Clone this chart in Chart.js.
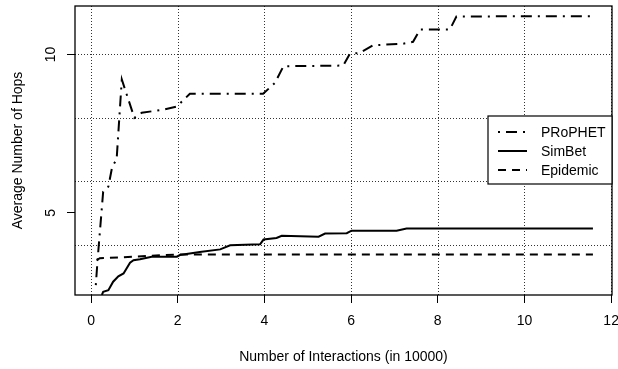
<!DOCTYPE html>
<html lang="en">
<head>
    <meta charset="UTF-8">
    <title>Average Number of Hops</title>
    <script src="https://cdn.jsdelivr.net/npm/chart.js"></script>
    <style>
        html, body { margin: 0; padding: 0; background: #fff; overflow: hidden; }
        canvas { display: block; }
    </style>
</head>
<body>
    <canvas id="hopsChart" width="618" height="369"></canvas>

    <script>
        // Series (x = interactions in 10000, y = average hops)
        const prophetX = [0.11, 0.15, 0.28, 0.40, 0.49, 0.59, 0.71, 1.00, 1.17, 1.67, 1.98, 2.28, 3.97, 4.24, 4.44, 5.82, 5.97, 6.20, 6.51, 7.20, 7.43, 7.59, 8.28, 8.43, 11.60];
        const prophetY = [2.72, 3.50, 5.67, 5.83, 6.47, 6.68, 9.21, 8.00, 8.16, 8.26, 8.36, 8.76, 8.76, 9.10, 9.63, 9.65, 10.02, 10.05, 10.29, 10.34, 10.40, 10.79, 10.79, 11.20, 11.21];

        const simbetX = [0.25, 0.28, 0.40, 0.51, 0.63, 0.75, 0.90, 0.98, 1.13, 1.40, 1.98, 2.05, 2.51, 2.98, 3.21, 3.90, 3.98, 4.28, 4.40, 5.25, 5.40, 5.90, 6.01, 7.05, 7.28, 11.58];
        const simbetY = [2.41, 2.51, 2.56, 2.83, 3.00, 3.09, 3.43, 3.51, 3.54, 3.62, 3.62, 3.67, 3.77, 3.85, 3.98, 4.01, 4.16, 4.21, 4.28, 4.25, 4.35, 4.36, 4.44, 4.44, 4.51, 4.51];

        const epidemicX = [0.13, 0.20, 1.00, 2.00, 11.58];
        const epidemicY = [3.50, 3.57, 3.62, 3.69, 3.69];

        const seriesNames = ['PRoPHET', 'SimBet', 'Epidemic'];
        const xTicks = [0, 2, 4, 6, 8, 10, 12];
        const yTicks = [5, 10];
        const yGridValues = [4, 6, 8, 10];
        const xRange = [-0.37, 12.02];
        const yRange = [2.41, 11.53];

        const FONT = '"Liberation Sans", Arial, Helvetica, sans-serif';
        const dashes = [[2, 6, 11, 6], [], [8, 6]];

        function toPoints(xs, ys) {
            return xs.map((x, i) => ({ x: x, y: ys[i] }));
        }

        // R-style box, dotted grid, rotated y labels and the legend
        const rStyle = {
            id: 'rStyle',
            beforeDatasetsDraw(chart) {
                const { ctx, chartArea: a, scales: { x, y } } = chart;
                ctx.save();
                ctx.strokeStyle = '#333';
                ctx.lineWidth = 1;
                ctx.setLineDash([1, 2]);
                xTicks.forEach(v => {
                    const px = Math.round(x.getPixelForValue(v)) + 0.5;
                    ctx.beginPath(); ctx.moveTo(px, a.top); ctx.lineTo(px, a.bottom); ctx.stroke();
                });
                yGridValues.forEach(v => {
                    const py = Math.round(y.getPixelForValue(v)) + 0.5;
                    ctx.beginPath(); ctx.moveTo(a.left, py); ctx.lineTo(a.right, py); ctx.stroke();
                });
                ctx.restore();
            },
            afterDraw(chart) {
                const { ctx, chartArea: a, scales: { y } } = chart;
                ctx.save();

                // plot box
                ctx.strokeStyle = '#000';
                ctx.lineWidth = 1.3;
                ctx.strokeRect(a.left, a.top, a.right - a.left, a.bottom - a.top);

                // y tick labels, vertical like R
                ctx.fillStyle = '#000';
                ctx.font = '14px ' + FONT;
                ctx.textAlign = 'center';
                ctx.textBaseline = 'middle';
                yTicks.forEach(v => {
                    ctx.save();
                    ctx.translate(50, y.getPixelForValue(v));
                    ctx.rotate(-Math.PI / 2);
                    ctx.fillText(String(v), 0, 1);
                    ctx.restore();
                });

                // legend
                const lx = 488, ly = 116, lw = a.right - 488, lh = 68;
                ctx.fillStyle = '#fff';
                ctx.fillRect(lx, ly, lw, lh);
                ctx.lineWidth = 1.2;
                ctx.strokeRect(lx, ly, lw, lh);
                ctx.textAlign = 'left';
                ctx.fillStyle = '#000';
                seriesNames.forEach((name, i) => {
                    const cy = 132 + i * 19;
                    ctx.lineWidth = 2;
                    ctx.setLineDash(dashes[i]);
                    ctx.beginPath(); ctx.moveTo(498, cy); ctx.lineTo(527, cy); ctx.stroke();
                    ctx.setLineDash([]);
                    ctx.fillText(name, 541, cy + 1);
                });
                ctx.restore();
            }
        };

        const ctx = document.getElementById('hopsChart').getContext('2d');
        new Chart(ctx, {
            type: 'line',
            data: {
                datasets: [
                    { label: seriesNames[0], data: toPoints(prophetX, prophetY), borderDash: dashes[0] },
                    { label: seriesNames[1], data: toPoints(simbetX, simbetY), borderDash: dashes[1] },
                    { label: seriesNames[2], data: toPoints(epidemicX, epidemicY), borderDash: dashes[2] }
                ]
            },
            options: {
                responsive: false,
                animation: false,
                devicePixelRatio: 1,
                layout: { autoPadding: false, padding: { top: 6, right: 6, left: 0, bottom: 0 } },
                elements: {
                    line: { borderColor: '#000', borderWidth: 2, tension: 0, fill: false },
                    point: { radius: 0 }
                },
                plugins: {
                    legend: { display: false },
                    tooltip: { enabled: false }
                },
                scales: {
                    x: {
                        type: 'linear',
                        min: xRange[0],
                        max: xRange[1],
                        afterBuildTicks: s => { s.ticks = xTicks.map(v => ({ value: v })); },
                        afterFit: s => { s.height = 74; s.paddingLeft = 0; s.paddingRight = 0; },
                        border: { display: false },
                        grid: { drawOnChartArea: false, drawTicks: true, tickLength: 8, color: '#000', lineWidth: 1 },
                        ticks: { color: '#000', padding: 10, maxRotation: 0, font: { family: FONT, size: 14 } },
                        title: {
                            display: true,
                            text: 'Number of Interactions (in 10000)',
                            color: '#000',
                            font: { family: FONT, size: 14 },
                            padding: { top: 0, bottom: 3 }
                        }
                    },
                    y: {
                        type: 'linear',
                        min: yRange[0],
                        max: yRange[1],
                        afterBuildTicks: s => { s.ticks = yTicks.map(v => ({ value: v })); },
                        afterFit: s => { s.width = 75; s.paddingTop = 0; s.paddingBottom = 0; },
                        border: { display: false },
                        grid: { drawOnChartArea: false, drawTicks: true, tickLength: 8, color: '#000', lineWidth: 1 },
                        ticks: { display: false },
                        title: {
                            display: true,
                            text: 'Average Number of Hops',
                            color: '#000',
                            font: { family: FONT, size: 14 },
                            padding: { top: 10, bottom: 0 }
                        }
                    }
                }
            },
            plugins: [rStyle]
        });
    </script>
</body>
</html>
